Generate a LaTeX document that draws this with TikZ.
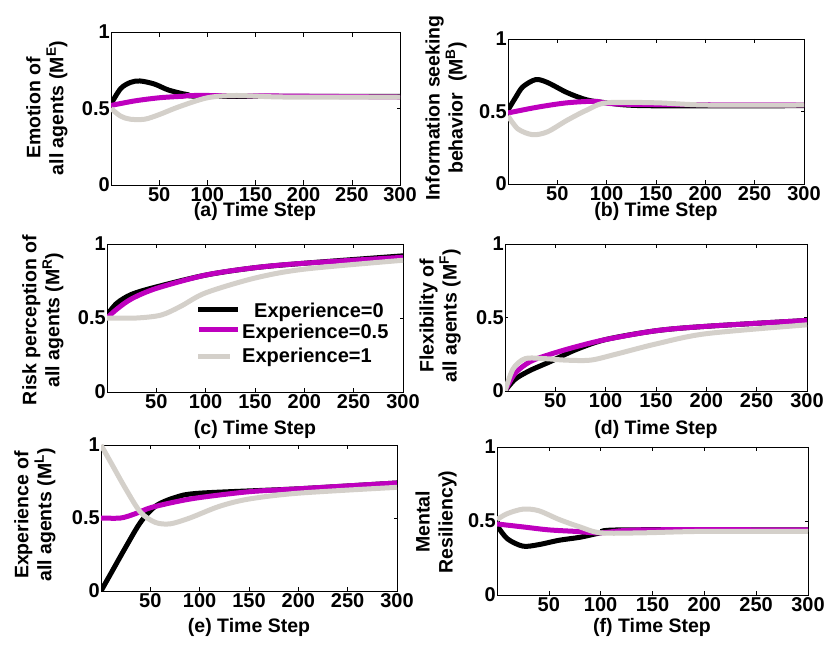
\documentclass[tikz,border=0pt]{standalone}
\usepackage{fontspec}
\setmainfont{Liberation Sans}
\begin{document}
\tikzset{
  curve0/.style={line width=5pt, black},
  curve5/.style={line width=5pt, color={rgb,255:red,190;green,0;blue,190}},
  curve1/.style={line width=5pt, color={rgb,255:red,212;green,208;blue,202}},
  ticklbl/.style={font=\fontsize{20}{22}\bfseries\selectfont, inner sep=1pt},
  axlbl/.style={font=\fontsize{19.5}{23}\bfseries\selectfont, align=center, inner sep=0pt},
}
% one panel: #1..#4 = left, top, right, bottom (pixels)
\newcommand{\panelbox}[4]{%
  \pgfmathsetmacro\pw{(#3-#1)/300}\pgfmathsetmacro\ph{#4-#2}%
  \begin{scope}[shift={(#1,649-#4)}, xscale=\pw, yscale=\ph]
    \draw[line width=0.8pt] (0,0) rectangle (300,1);
    \foreach \t in {50,100,...,300} {
      \draw[line width=0.6pt] (\t,0) -- (\t,0.03) (\t,1) -- (\t,0.97);
      \node[ticklbl, below] at (\t,-0.01) {\t};
    }
    \foreach \v in {0,0.5,1} {
      \draw[line width=0.6pt] (0,\v) -- (3,\v) (300,\v) -- (297,\v);
    }
    \node[ticklbl, left] at (0,0) {0};
    \node[ticklbl, left] at (0,0.5) {0.5};
    \node[ticklbl, left] at (0,1) {1};
    \begin{scope}
      \clip (0,0) rectangle (300,1.02);
      \curvesA
    \end{scope}
  \end{scope}}
\begin{tikzpicture}[x=1pt, y=1pt]
  \useasboundingbox (0,0) rectangle (831,649);

  % (a) emotion
  \def\curvesA{%
    \draw[curve0] plot[smooth] coordinates {(0,.53) (10,.63) (20,.67) (30,.68) (45,.66) (60,.62) (80,.59) (100,.58) (300,.58)};
    \draw[curve5] plot[smooth] coordinates {(0,.52) (25,.55) (50,.57) (75,.58) (100,.585) (300,.575)};
    \draw[curve1] plot[smooth] coordinates {(0,.5) (10,.45) (20,.43) (35,.43) (50,.46) (70,.51) (100,.57) (130,.585) (180,.575) (300,.575)};}
  \panelbox{111}{32}{400}{185}
  \node[axlbl] (ya) at (47,541) [rotate=90] {Emotion of\\all agents (M\textsuperscript{E})};
  \node[axlbl] (xa) at (255,438) {(a) Time Step};

  % (b) information seeking
  \def\curvesA{%
    \draw[curve0] plot[smooth] coordinates {(0,.51) (8,.6) (15,.67) (28,.72) (40,.7) (60,.63) (80,.58) (100,.56) (140,.54) (300,.54)};
    \draw[curve5] plot[smooth] coordinates {(0,.49) (30,.53) (60,.56) (90,.57) (120,.55) (300,.545)};
    \draw[curve1] plot[smooth] coordinates {(0,.47) (10,.38) (25,.34) (40,.36) (60,.44) (80,.51) (100,.56) (150,.56) (200,.545) (300,.545)};}
  \panelbox{508}{39}{804}{184}
  \node[axlbl] (yb) at (446,541) [rotate=90] {Information seeking\\behavior\ \ (M\textsuperscript{B})};
  \node[axlbl] (xb) at (656,438) {(b) Time Step};

  % (c) risk perception
  \def\curvesA{%
    \draw[curve0] plot[smooth] coordinates {(0,.52) (10,.6) (25,.66) (50,.71) (100,.79) (150,.84) (200,.87) (300,.92)};
    \draw[curve5] plot[smooth] coordinates {(0,.5) (10,.56) (25,.63) (50,.7) (100,.79) (150,.84) (200,.87) (300,.91)};
    \draw[curve1] plot[smooth] coordinates {(0,.5) (30,.5) (55,.52) (75,.58) (100,.67) (150,.77) (200,.83) (300,.89)};}
  \panelbox{107}{244}{403}{392}
  \node[axlbl] (yc) at (43,329) [rotate=90] {Risk perception of\\all agents (M\textsuperscript{R})};
  \node[axlbl] (xc) at (255,220) {(c) Time Step};

  % legend
  \coordinate (l0a) at (198,339); \coordinate (l0b) at (238,339);
  \coordinate (l5a) at (199,319); \coordinate (l5b) at (238,319);
  \coordinate (l1a) at (198,292); \coordinate (l1b) at (230,292);
  \draw[curve0] (l0a) -- (l0b);
  \draw[curve5] (l5a) -- (l5b);
  \draw[curve1] (l1a) -- (l1b);
  \node[ticklbl, right] (t0) at (253,337) {Experience=0};
  \node[ticklbl, right] (t5) at (241,316) {Experience=0.5};
  \node[ticklbl, right] (t1) at (241,292) {Experience=1};

  % (d) flexibility
  \def\curvesA{%
    \draw[curve0] plot[smooth] coordinates {(0,0) (10,.08) (25,.14) (45,.2) (70,.28) (100,.35) (150,.41) (200,.44) (300,.48)};
    \draw[curve5] plot[smooth] coordinates {(0,0) (10,.12) (25,.2) (45,.25) (70,.3) (100,.35) (150,.41) (200,.44) (300,.48)};
    \draw[curve1] plot[smooth] coordinates {(0,0) (8,.15) (20,.22) (40,.22) (60,.21) (85,.21) (110,.25) (150,.32) (200,.39) (300,.45)};}
  \panelbox{505}{244}{807}{391}
  \node[axlbl] (yd) at (440,333) [rotate=90] {Flexibility of\\all agents (M\textsuperscript{F})};
  \node[axlbl] (xd) at (656,220) {(d) Time Step};

  % (e) experience
  \def\curvesA{%
    \draw[curve0] plot[smooth] coordinates {(0,0) (10,.12) (25,.3) (40,.47) (55,.58) (75,.64) (100,.67) (200,.7) (300,.74)};
    \draw[curve5] plot[smooth] coordinates {(0,.5) (20,.5) (35,.53) (50,.57) (75,.61) (100,.64) (150,.68) (200,.7) (300,.74)};
    \draw[curve1] plot[smooth] coordinates {(0,1) (10,.88) (25,.7) (40,.54) (55,.47) (70,.46) (90,.5) (120,.58) (150,.63) (200,.67) (300,.71)};}
  \panelbox{101}{445}{397}{591}
  \node[axlbl] (ye) at (35,134) [rotate=90] {Experience of\\all agents (M\textsuperscript{L})};
  \node[axlbl] (xe) at (249,22) {(e) Time Step};

  % (f) mental resiliency
  \def\curvesA{%
    \draw[curve0] plot[smooth] coordinates {(0,.47) (10,.38) (25,.33) (40,.34) (60,.37) (80,.39) (100,.42) (120,.44) (300,.44)};
    \draw[curve5] plot[smooth] coordinates {(0,.48) (25,.46) (50,.44) (75,.43) (100,.42) (140,.44) (300,.44)};
    \draw[curve1] plot[smooth] coordinates {(0,.51) (10,.55) (25,.58) (40,.57) (60,.51) (80,.46) (100,.42) (140,.42) (200,.43) (300,.43)};}
  \panelbox{497}{447}{808}{595}
  \node[axlbl] (yf) at (436,127) [rotate=90] {Mental\\Resiliency)};
  \node[axlbl] (xf) at (652,22) {(f) Time Step};
\end{tikzpicture}
\end{document}
